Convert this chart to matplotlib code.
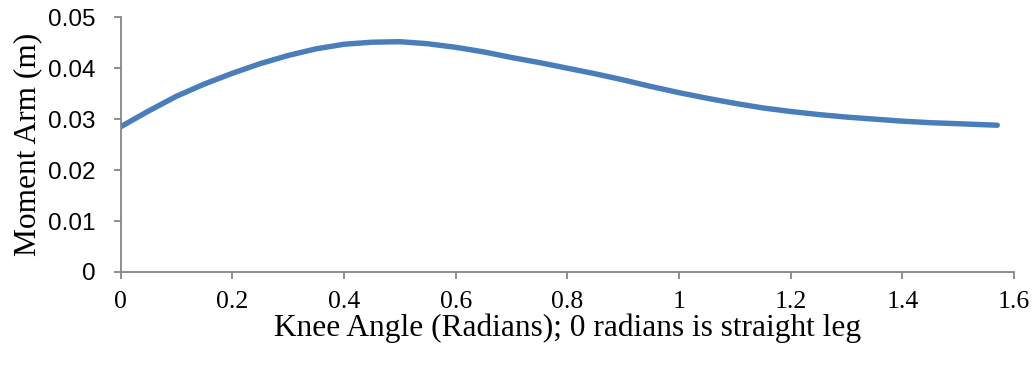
import matplotlib
matplotlib.use("Agg")
import matplotlib.pyplot as plt

# knee angle (rad) and moment arm (m)
angulo = [0.0, 0.05, 0.1, 0.15, 0.2, 0.25, 0.3, 0.35, 0.4, 0.45, 0.5, 0.55,
          0.6, 0.65, 0.7, 0.75, 0.8, 0.85, 0.9, 0.95, 1.0, 1.05, 1.1, 1.15,
          1.2, 1.25, 1.3, 1.35, 1.4, 1.45, 1.5, 1.57]
brazo = [0.0285, 0.0316, 0.0345, 0.0369, 0.0390, 0.0409, 0.0425, 0.0438,
         0.0447, 0.0451, 0.0452, 0.0448, 0.0441, 0.0432, 0.0421, 0.0411,
         0.0400, 0.0389, 0.0377, 0.0364, 0.0352, 0.0341, 0.0331, 0.0322,
         0.0315, 0.0309, 0.0304, 0.0300, 0.0296, 0.0293, 0.0291, 0.0288]

xticks = [0, 0.2, 0.4, 0.6, 0.8, 1, 1.2, 1.4, 1.6]
yticks = [0, 0.01, 0.02, 0.03, 0.04, 0.05]

serif = "Liberation Serif"
sans = "Liberation Sans"
gris = "#868686"

fig = plt.figure(figsize=(10.36, 3.67), dpi=100)
ax = fig.add_axes([0.1165, 0.259, 0.8623, 0.694])

ax.plot(angulo, brazo, color="#4a7ebb", lw=3.9, solid_capstyle="round",
        solid_joinstyle="round")

ax.set_xlim(0, 1.6)
ax.set_ylim(0, 0.05)
ax.set_xticks(xticks)
ax.set_xticklabels([f"{v:g}" for v in xticks], fontfamily=serif, fontsize=18.5)
ax.set_yticks(yticks)
ax.set_yticklabels([f"{v:g}" for v in yticks], fontfamily=sans, fontsize=17.5)

for lado in ["top", "right"]:
    ax.spines[lado].set_visible(False)
for lado in ["left", "bottom"]:
    ax.spines[lado].set_color(gris)
    ax.spines[lado].set_linewidth(1.3)
ax.tick_params(direction="out", length=5, width=1.3, color=gris)
ax.tick_params(axis="x", pad=9)
ax.tick_params(axis="y", pad=13)

ax.set_xlabel("Knee Angle (Radians); 0 radians is straight leg",
              fontfamily=serif, fontsize=22.6)
ax.set_ylabel("Moment Arm (m)", fontfamily=serif, fontsize=22.6)
ax.xaxis.set_label_coords(0.5, -0.165)
ax.yaxis.set_label_coords(-0.088, 0.5)

fig.savefig("out.png", dpi=100)
